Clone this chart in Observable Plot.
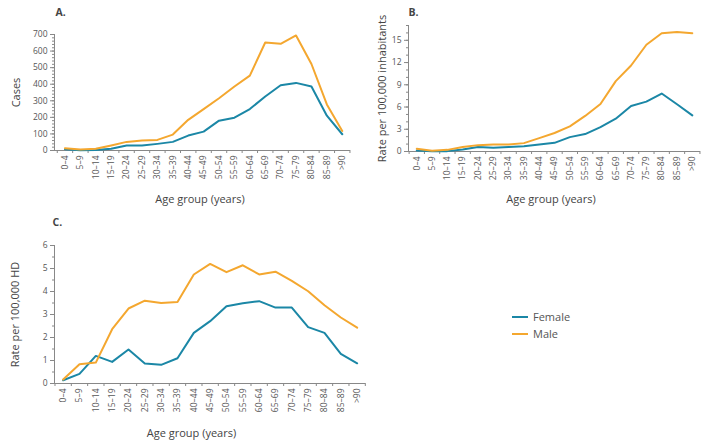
<!DOCTYPE html>
<html>
<head>
<meta charset="utf-8">
<script src="https://cdn.jsdelivr.net/npm/d3@7"></script>
<script src="https://cdn.jsdelivr.net/npm/@observablehq/plot@0.6"></script>
<style>
  html, body { margin: 0; padding: 0; background: #fff; }
  #root { position: relative; width: 725px; height: 446px; overflow: hidden; font-family: "Open Sans", sans-serif; }
  #root > .panel { position: absolute; }
  #legend { position: absolute; left: 512px; top: 308px; font-size: 11px; color: #555; line-height: 17px; }
  #legend div { display: flex; align-items: center; }
  #legend svg { margin-right: 5px; }
</style>
</head>
<body>
<div id="root"></div>
<script>
// ---- Data ----
const ageGroups = ["0–4","5–9","10–14","15–19","20–24","25–29","30–34","35–39","40–44","45–49","50–54","55–59","60–64","65–69","70–74","75–79","80–84","85–89",">90"];
const sexes = ["Female", "Male"];
const sexColors = ["#1b87a6", "#f4a72f"];

// A. Cases
const casesFemale = [8, 2, 3, 10, 30, 30, 40, 52, 90, 114, 180, 198, 250, 326, 394, 408, 386, 210, 98];
const casesMale   = [14, 6, 10, 30, 52, 60, 64, 96, 185, 250, 315, 386, 452, 652, 644, 694, 522, 278, 118];

// B. Rate per 100,000 inhabitants
const rateFemale = [0.14, 0.05, 0.05, 0.27, 0.6, 0.5, 0.6, 0.72, 0.95, 1.17, 1.94, 2.35, 3.3, 4.43, 6.15, 6.73, 7.82, 6.37, 4.88];
const rateMale   = [0.36, 0.1, 0.22, 0.6, 0.86, 0.95, 0.95, 1.13, 1.8, 2.5, 3.4, 4.8, 6.4, 9.5, 11.6, 14.4, 15.95, 16.13, 15.95];

// C. Rate per 100,000 HD
const rateHDFemale = [0.14, 0.42, 1.2, 0.94, 1.48, 0.87, 0.81, 1.1, 2.2, 2.71, 3.36, 3.49, 3.58, 3.3, 3.3, 2.45, 2.2, 1.29, 0.88];
const rateHDMale   = [0.17, 0.84, 0.91, 2.36, 3.26, 3.6, 3.5, 3.54, 4.74, 5.2, 4.84, 5.14, 4.74, 4.86, 4.46, 4.01, 3.4, 2.87, 2.43];

const xTitle = "Age group (years)";

function rows(f, m) {
  return ageGroups.flatMap((age, i) => [
    {i, age, sex: sexes[0], value: f[i]},
    {i, age, sex: sexes[1], value: m[i]}
  ]);
}

const blank = () => "";

function panel(o) {
  const idx = d3.range(ageGroups.length);
  return Plot.plot({
    width: o.width, height: o.height,
    marginLeft: o.ml, marginRight: o.mr, marginTop: o.mt, marginBottom: o.mb,
    style: {fontFamily: "'Open Sans', sans-serif", fontSize: "8.5px", color: "#555", background: "transparent", overflow: "visible"},
    x: {type: "linear", domain: o.xDomain},
    y: {domain: o.yDomain},
    color: {domain: sexes, range: sexColors},
    marks: [
      Plot.frame({anchor: "left", stroke: "#888"}),
      Plot.frame({anchor: "bottom", stroke: "#888"}),
      Plot.axisY({ticks: o.yMinor, tickSize: 2, tickFormat: blank, stroke: "#888", label: null}),
      Plot.axisY({ticks: o.yTicks, tickSize: 4, tickPadding: 3, tickFormat: d3.format("d"), stroke: "#888", label: null}),
      Plot.axisX({ticks: d3.range(ageGroups.length + 1).map(k => k - 0.5), tickSize: 3, tickFormat: blank, stroke: "#888", label: null}),
      Plot.axisX({ticks: idx, tickFormat: k => ageGroups[k], tickSize: 0, tickRotate: -90, tickPadding: 5, label: null}),
      Plot.line(rows(o.f, o.m), {x: "i", y: "value", z: "sex", stroke: "sex", strokeWidth: 2}),
      Plot.text([o.yLabel], {frameAnchor: "left", textAnchor: "middle", lineAnchor: "middle", rotate: -90, dx: o.yLabelDx, fontSize: 11, fill: "#444"}),
      Plot.text([xTitle], {frameAnchor: "bottom", textAnchor: "middle", lineAnchor: "middle", dx: o.xLabelDx, dy: o.xLabelDy, fontSize: 11, fill: "#444"}),
      Plot.text([o.letter], {frameAnchor: "top-left", textAnchor: "start", lineAnchor: "middle", dx: o.letterDx, dy: o.letterDy, fontSize: 10.5, fontWeight: "bold", fill: "#444"})
    ]
  });
}

const root = document.getElementById("root");
function place(svg, left, top) {
  svg.classList.add("panel");
  svg.style.left = left + "px";
  svg.style.top = top + "px";
  root.appendChild(svg);
}

place(panel({
  width: 370, height: 215, ml: 54, mr: 21, mt: 34, mb: 65,
  xDomain: [-0.68, 18.47], yDomain: [0, 700],
  yTicks: d3.range(0, 701, 100), yMinor: d3.range(0, 701, 20),
  f: casesFemale, m: casesMale, yLabel: "Cases", yLabelDx: -38,
  xLabelDx: -2, xLabelDy: 49, letter: "A.", letterDx: 1, letterDy: -22
}), 0, 0);

place(panel({
  width: 363, height: 215, ml: 46, mr: 26, mt: 25, mb: 64,
  xDomain: [-0.54, 18.47], yDomain: [0, 17],
  yTicks: d3.range(0, 16, 3), yMinor: d3.range(0, 18, 1),
  f: rateFemale, m: rateMale, yLabel: "Rate per 100,000 inhabitants", yLabelDx: -26,
  xLabelDx: -3, xLabelDy: 48, letter: "B.", letterDx: 0, letterDy: -13
}), 362, 0);

place(panel({
  width: 400, height: 231, ml: 54, mr: 36, mt: 30, mb: 63,
  xDomain: [-0.53, 18.45], yDomain: [0, 6],
  yTicks: d3.range(0, 7, 1), yMinor: d3.range(0, 6.01, 0.5),
  f: rateHDFemale, m: rateHDMale, yLabel: "Rate per 100,000 HD", yLabelDx: -39,
  xLabelDx: -18, xLabelDy: 50, letter: "C.", letterDx: -2, letterDy: -23
}), 0, 215);

// Legend
const legend = document.createElement("div");
legend.id = "legend";
sexes.forEach((s, k) => {
  const row = document.createElement("div");
  row.innerHTML = `<svg width="16" height="4"><line x1="0" x2="16" y1="2" y2="2" stroke="${sexColors[k]}" stroke-width="2"/></svg><span>${s}</span>`;
  legend.appendChild(row);
});
root.appendChild(legend);
</script>
</body>
</html>
